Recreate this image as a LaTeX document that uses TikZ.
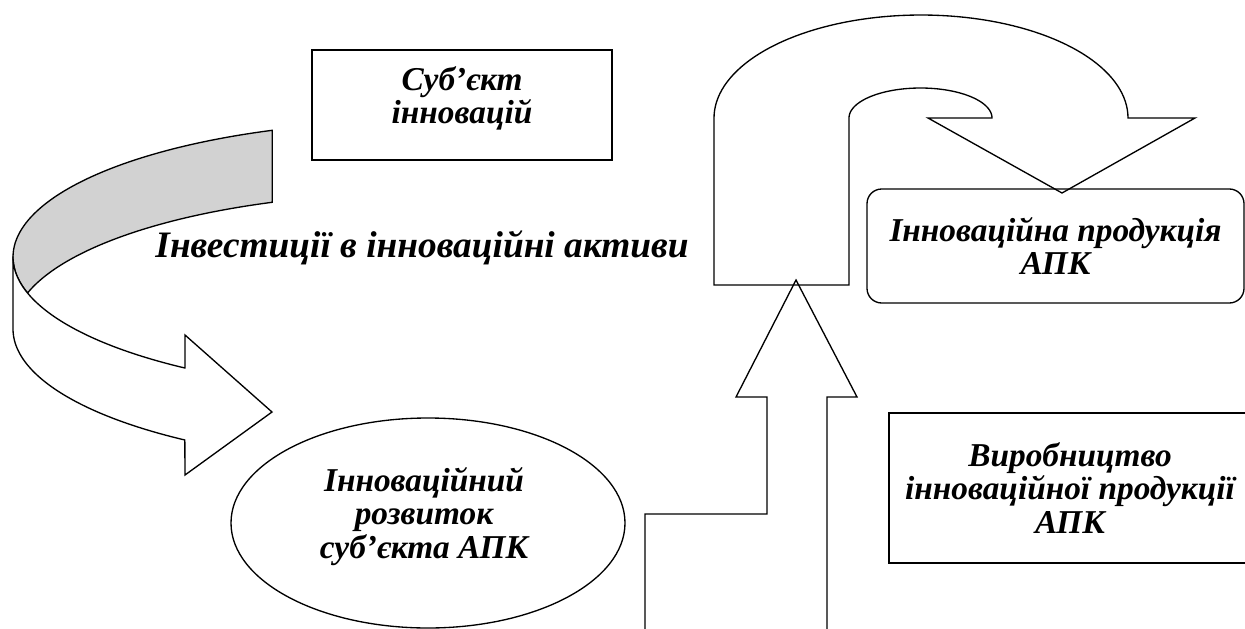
\documentclass[tikz,border=0pt]{standalone}
\usepackage{fontspec}
\setmainfont{Liberation Serif}
\usetikzlibrary{positioning,shapes.geometric}
\definecolor{bandgray}{RGB}{210,210,210}

\tikzset{
  txt/.style={font=\fontsize{25}{25}\selectfont\bfseries\itshape, align=center, inner sep=0pt},
  bigtxt/.style={font=\fontsize{28}{30}\selectfont\bfseries\itshape},
  frame/.style={draw, line width=1pt, inner sep=0pt},
}

\begin{document}
\begin{tikzpicture}[x=0.75pt,y=-0.75pt,line width=1pt]
    \useasboundingbox (0,0) rectangle (1245,628);

    % curved arrow on the left, grey back of the band
    \filldraw[fill=bandgray] plot[domain=248.7:164.65,samples=60] ({420+407*cos(\x)},{257+136*sin(\x)})
        -- plot[domain=195.35:248.7,samples=60] ({420+407*cos(\x)},{329+136*sin(\x)}) -- cycle;
    % front of the band with the head
    \draw[fill=white] (13,257) -- (13,329)
        -- plot[domain=180:125.3,samples=60] ({420+407*cos(\x)},{329+136*sin(\x)})
        -- (185,475) -- (272,412) -- (185,335) -- (185,368)
        -- plot[domain=125.3:180,samples=60] ({420+407*cos(\x)},{257+136*sin(\x)}) -- cycle;

    % u-turn arrow at the top
    \draw (714,285) -- plot[domain=180:360,samples=80] ({921+207*cos(\x)},{118+103*sin(\x)})
        -- (1195,118) -- (1062,193) -- (928,118) -- (992,118)
        -- plot[domain=360:180,samples=60] ({920.5+71.5*cos(\x)},{118+30*sin(\x)})
        -- (849,285) -- cycle;

    % arrow going up
    \draw (645,632) -- (645,514) -- (767,514) -- (767,397) -- (736,397) -- (796,280)
        -- (857,397) -- (827,397) -- (827,632);

    % boxes
    \node[frame, minimum width=225pt, minimum height=82.5pt] (subj) at (462,105) {};
    \node[txt] (subjtext) at (subj.center) [yshift=5pt] {Суб’єкт\\інновацій};

    \node[frame, rounded corners=11pt, minimum width=282.75pt, minimum height=85.5pt, txt] (prod) at (1055.5,246) {Інноваційна продукція\\АПК};

    \node[frame, minimum width=271.5pt, minimum height=112.5pt, txt] (make) at (1070,488) {Виробництво\\інноваційної продукції\\АПК};

    \node[draw, ellipse, line width=1pt, minimum width=295.5pt, minimum height=157.5pt] (dev) at (428,523) {};
    \node[txt] (devtext) at (dev.center) [xshift=-3pt, yshift=5pt] {Інноваційний\\розвиток\\суб’єкта АПК};

    % label of the curved arrow
    \node[bigtxt] (invest) at (422,248) {Інвестиції в інноваційні активи};
\end{tikzpicture}
\end{document}
